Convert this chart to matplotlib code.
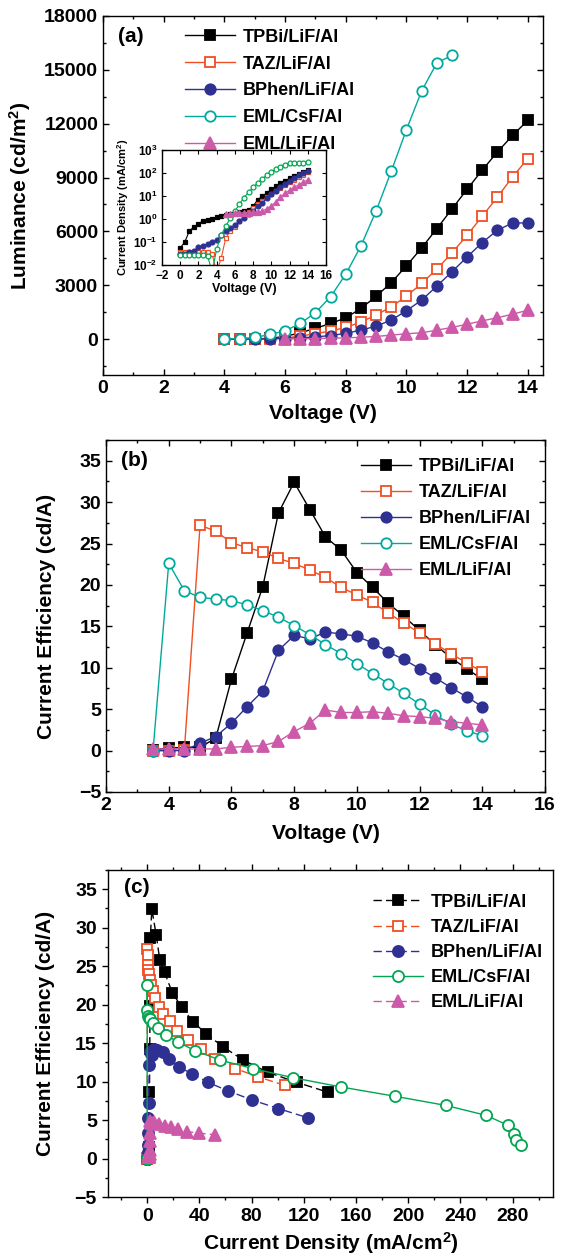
import matplotlib
matplotlib.use('Agg')
import matplotlib.pyplot as plt
from matplotlib.ticker import MultipleLocator, LogLocator, NullFormatter

plt.rcParams['font.family'] = ['Liberation Sans', 'DejaVu Sans']
plt.rcParams['font.weight'] = 'bold'
plt.rcParams['axes.labelweight'] = 'bold'
plt.rcParams['mathtext.fontset'] = 'custom'
plt.rcParams['mathtext.rm'] = 'Liberation Sans:bold'
plt.rcParams['mathtext.bf'] = 'Liberation Sans:bold'
plt.rcParams['mathtext.it'] = 'Liberation Sans:bold:italic'
plt.rcParams['mathtext.default'] = 'bf'
plt.rcParams['axes.linewidth'] = 1.0

names = ['TPBi/LiF/Al', 'TAZ/LiF/Al', 'BPhen/LiF/Al', 'EML/CsF/Al', 'EML/LiF/Al']

# (a) luminance vs voltage
v_a = [4, 4.5, 5, 5.5, 6, 6.5, 7, 7.5, 8, 8.5, 9, 9.5, 10, 10.5, 11, 11.5, 12, 12.5, 13, 13.5, 14]
v_a_csf = [4, 4.5, 5, 5.5, 6, 6.5, 7, 7.5, 8, 8.5, 9, 9.5, 10, 10.5, 11, 11.5]
v_a_lif = [6, 6.5, 7, 7.5, 8, 8.5, 9, 9.5, 10, 10.5, 11, 11.5, 12, 12.5, 13, 13.5, 14]
lum_tpbi = [0, 5, 15, 40, 150, 350, 600, 870, 1180, 1710, 2380, 3150, 4080, 5080, 6150, 7250, 8350, 9420, 10430, 11350, 12190]
lum_taz = [0, 3, 10, 25, 60, 170, 300, 450, 650, 950, 1340, 1800, 2390, 3100, 3900, 4800, 5790, 6850, 7920, 9040, 10060]
lum_bphen = [0, 2, 5, 10, 30, 70, 120, 200, 320, 500, 720, 1060, 1580, 2170, 2950, 3750, 4580, 5380, 6070, 6470, 6470]
lum_csf = [10, 30, 90, 260, 460, 870, 1470, 2360, 3620, 5190, 7140, 9350, 11670, 13820, 15380, 15810]
lum_lif = [10, 20, 30, 50, 70, 100, 150, 220, 300, 350, 500, 650, 830, 1020, 1190, 1390, 1610]

# (b) current efficiency vs voltage, (c) vs current density
volts = [3.5, 4, 4.5, 5, 5.5, 6, 6.5, 7, 7.5, 8, 8.5, 9, 9.5, 10, 10.5, 11, 11.5, 12, 12.5, 13, 13.5, 14]
eff_tpbi = [0.1, 0.3, 0.4, 0.4, 1.5, 8.6, 14.2, 19.8, 28.7, 32.4, 29.1, 25.8, 24.2, 21.5, 19.7, 17.8, 16.2, 14.5, 12.8, 11.2, 9.9, 8.6]
eff_taz = [0.0, 0.0, 0.1, 27.2, 26.5, 25.1, 24.5, 24.0, 23.2, 22.6, 21.8, 20.9, 19.7, 18.8, 17.9, 16.6, 15.4, 14.2, 12.9, 11.7, 10.6, 9.5]
eff_bphen = [0.0, 0.0, 0.0, 0.9, 1.7, 3.3, 5.3, 7.2, 12.1, 13.9, 13.5, 14.3, 14.1, 13.8, 13.0, 11.9, 11.0, 9.9, 8.8, 7.6, 6.5, 5.3]
eff_csf = [0.0, 22.6, 19.3, 18.5, 18.3, 18.1, 17.6, 16.9, 16.1, 15.1, 14.0, 12.8, 11.7, 10.5, 9.3, 8.1, 6.9, 5.6, 4.3, 3.2, 2.4, 1.8]
eff_lif = [0.2, 0.2, 0.2, 0.2, 0.2, 0.4, 0.5, 0.6, 1.1, 2.3, 3.3, 4.9, 4.6, 4.6, 4.7, 4.5, 4.2, 4.1, 3.9, 3.5, 3.3, 3.1]

j_tpbi = [1.0, 1.2, 1.4, 1.5, 1.7, 1.8, 2.0, 2.2, 2.4, 3.6, 6.9, 9.7, 13.3, 19.4, 26.4, 35.0, 45.3, 58.3, 73.6, 92.5, 114.7, 138.9]
j_taz = [0.03, 0.005, 0.02, 0.15, 0.3, 0.45, 0.8, 1.3, 2.0, 2.9, 4.4, 6.2, 8.8, 12.3, 17.3, 23.2, 31.0, 41.0, 52.0, 67.5, 85.3, 105.6]
j_bphen = [0.1, 0.12, 0.2, 0.3, 0.4, 0.55, 0.8, 1.1, 1.6, 2.2, 3.6, 5.0, 7.8, 11.8, 17.0, 24.5, 34.5, 46.5, 62.0, 80.5, 100.5, 123.0]
j_csf = [0.005, 0.05, 0.2, 0.5, 1.1, 2.2, 4.4, 8.6, 14.2, 23.9, 37.0, 55.8, 80.8, 112.0, 148.6, 189.7, 229.0, 260.0, 276.7, 281.0, 282.8, 286.4]
j_lif = [1.2, 1.3, 1.4, 1.6, 1.7, 1.8, 1.8, 1.9, 1.9, 2.0, 2.0, 2.2, 2.8, 3.8, 5.6, 9.2, 13.3, 18.0, 23.6, 30.6, 39.7, 51.7]

# inset: low-voltage part of the J-V curves
v_low = [0, 0.5, 1, 1.5, 2, 2.5, 3]
jlow_tpbi = [0.055, 0.1, 0.3, 0.45, 0.6, 0.85, 0.95]
jlow_taz = [0.035, 0.035, 0.035, 0.035, 0.035, 0.035, 0.035]
jlow_bphen = [0.03, 0.03, 0.035, 0.04, 0.06, 0.07, 0.08]
jlow_csf = [0.027, 0.027, 0.027, 0.027, 0.027, 0.027, 0.025]

red = '#F04E23'
blue = '#2E3192'
teal = '#00A99D'
green = '#00A651'
pink = '#CC5AA8'

fig = plt.figure(figsize=(5.63, 12.56), dpi=100)


def box(l, r, t, b):
    return [l / 563, 1 - b / 1256, (r - l) / 563, (b - t) / 1256]


def style(color, marker, filled, ms, ls='-'):
    return dict(color=color, marker=marker, ms=ms, lw=1.0, ls=ls, mec=color,
                mfc=color if filled else 'white', mew=1.3)


def frame(ax, direction):
    ax.tick_params(which='both', direction=direction, top=True, right=True,
                   width=1.0, labelsize=14)
    ax.tick_params(which='major', length=4.5)
    ax.tick_params(which='minor', length=2.5)


leg_kw = dict(loc='upper left', frameon=False, fontsize=13, numpoints=1,
              handlelength=2.8, handletextpad=0.4, borderpad=0)

# ---------- (a) ----------
ax = fig.add_axes(box(103, 543, 16, 375))
sets_a = [(v_a, lum_tpbi), (v_a, lum_taz), (v_a, lum_bphen), (v_a_csf, lum_csf), (v_a_lif, lum_lif)]
sty_a = [style('black', 's', True, 7), style(red, 's', False, 7), style(blue, 'o', True, 7.5),
         style(teal, 'o', False, 7.5), style(pink, '^', True, 8)]
for (x, y), s, n in zip(sets_a, sty_a, names):
    ax.plot(x, y, label=n, **s)
ax.set_xlim(0, 14.5)
ax.set_ylim(-2000, 18000)
ax.xaxis.set_major_locator(MultipleLocator(2))
ax.xaxis.set_minor_locator(MultipleLocator(1))
ax.yaxis.set_major_locator(MultipleLocator(3000))
ax.yaxis.set_minor_locator(MultipleLocator(1500))
frame(ax, 'in')
ax.set_xlabel('Voltage (V)', fontsize=15)
ax.set_ylabel('Luminance (cd/m$^2$)', fontsize=15)
ax.yaxis.set_label_coords(-0.16, 0.5)
ax.xaxis.set_label_coords(0.5, -0.08)
ax.text(0.035, 0.97, '(a)', transform=ax.transAxes, fontsize=15, va='top')
ax.legend(bbox_to_anchor=(0.165, 0.99), labelspacing=0.55, **leg_kw)

# inset
ins = fig.add_axes(box(162, 326, 150, 265))
ins_sets = [(v_low + volts, jlow_tpbi + j_tpbi), (v_low + volts, jlow_taz + j_taz),
            (v_low + volts, jlow_bphen + j_bphen), (v_low + volts, jlow_csf + j_csf),
            (volts[3:], j_lif[3:])]
ins_sty = [style('black', 's', True, 3.2), style(red, 's', False, 3.2), style(blue, 'o', True, 3.5),
           style(green, 'o', False, 3.5), style(pink, '^', True, 4)]
for (x, y), s in zip(ins_sets, ins_sty):
    s['mew'] = 0.9
    s['lw'] = 0.8
    ins.plot(x, y, **s)
ins.set_yscale('log')
ins.set_xlim(-2, 16)
ins.set_ylim(0.01, 1000)
ins.xaxis.set_major_locator(MultipleLocator(2))
ins.yaxis.set_major_locator(LogLocator(base=10, numticks=10))
ins.yaxis.set_minor_formatter(NullFormatter())
ins.tick_params(which='both', direction='in', top=True, right=True, labelsize=8.5, width=0.8)
ins.tick_params(which='major', length=3)
ins.tick_params(which='minor', length=0)
ins.set_xlabel('Voltage (V)', fontsize=9, labelpad=1)
ins.set_ylabel('Current Density (mA/cm$^2$)', fontsize=8, labelpad=1)

# ---------- (b) ----------
ax = fig.add_axes(box(106, 545, 440, 792))
effs = [eff_tpbi, eff_taz, eff_bphen, eff_csf, eff_lif]
for y, s, n in zip(effs, sty_a, names):
    ax.plot(volts, y, label=n, **s)
ax.set_xlim(2, 16)
ax.set_ylim(-5, 37.5)
ax.xaxis.set_major_locator(MultipleLocator(2))
ax.xaxis.set_minor_locator(MultipleLocator(1))
ax.yaxis.set_major_locator(MultipleLocator(5))
ax.yaxis.set_minor_locator(MultipleLocator(2.5))
frame(ax, 'in')
ax.set_xlabel('Voltage (V)', fontsize=15)
ax.set_ylabel('Current Efficiency (cd/A)', fontsize=15)
ax.yaxis.set_label_coords(-0.115, 0.5)
ax.xaxis.set_label_coords(0.5, -0.09)
ax.text(0.035, 0.97, '(b)', transform=ax.transAxes, fontsize=15, va='top')
ax.legend(bbox_to_anchor=(0.56, 0.975), labelspacing=0.5, **leg_kw)

# ---------- (c) ----------
ax = fig.add_axes(box(108, 553, 870, 1197))
js = [j_tpbi, j_taz, j_bphen, j_csf, j_lif]
sty_c = [style('black', 's', True, 7.5, (0, (6, 3))), style(red, 's', False, 7.5, (0, (6, 3))),
         style(blue, 'o', True, 8, (0, (6, 3))), style(green, 'o', False, 8),
         style(pink, '^', True, 8.5, (0, (6, 3)))]
for x, y, s, n in zip(js, effs, sty_c, names):
    ax.plot(x, y, label=n, **s)
ax.set_xlim(-30, 311)
ax.set_ylim(-5, 37.5)
ax.xaxis.set_major_locator(MultipleLocator(40))
ax.xaxis.set_minor_locator(MultipleLocator(20))
ax.yaxis.set_major_locator(MultipleLocator(5))
ax.yaxis.set_minor_locator(MultipleLocator(2.5))
frame(ax, 'out')
ax.tick_params(which='both', right=False)
ax.set_xlabel('Current Density (mA/cm$^2$)', fontsize=15)
ax.set_ylabel('Current Efficiency (cd/A)', fontsize=15)
ax.yaxis.set_label_coords(-0.12, 0.5)
ax.xaxis.set_label_coords(0.5, -0.1)
ax.text(0.035, 0.975, '(c)', transform=ax.transAxes, fontsize=15, va='top')
ax.legend(bbox_to_anchor=(0.575, 0.955), labelspacing=0.45, **leg_kw)

fig.savefig('out.png', dpi=100)
